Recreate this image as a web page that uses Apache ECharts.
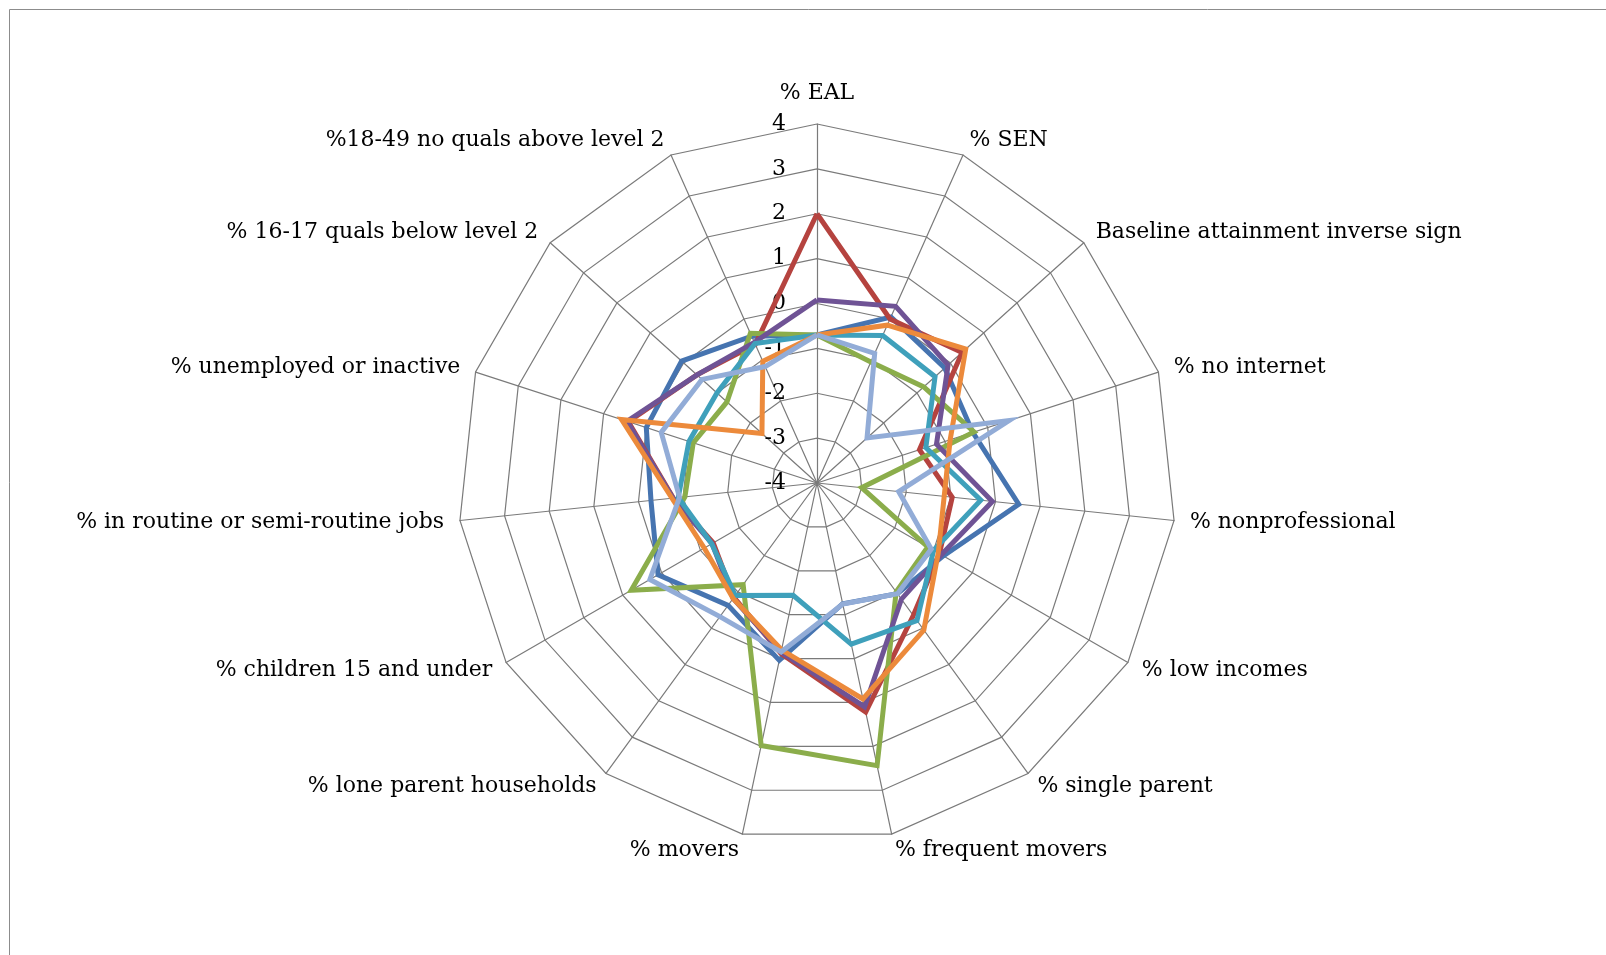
<!DOCTYPE html>
<html lang="en">
  <head>
    <meta charset="UTF-8" />
    <title>Radar</title>
    <style>
      * {
        margin: 0;
        padding: 0;
      }
      html,
      body {
        background: #fff;
      }
      #main {
        width: 1606px;
        height: 955px;
      }
    </style>
  </head>

  <body>
    <div id="main"></div>
  </body>

  <script src="https://cdn.jsdelivr.net/npm/echarts@6/dist/echarts.min.js"></script>
  <script>
    // axis names, clockwise from the top
    const categories = [
      "% EAL",
      "% SEN",
      "Baseline attainment inverse sign",
      "% no internet",
      "% nonprofessional",
      "% low incomes",
      "% single parent",
      "% frequent movers",
      "% movers",
      "% lone parent households",
      "% children 15 and under",
      "% in routine or semi-routine jobs",
      "% unemployed or inactive",
      "% 16-17 quals below level 2",
      "%18-49 no quals above level 2",
    ];

    // series values, same order as categories
    const blueVals = [-0.7, 0.05, -0.17, -0.35, 0.52, -0.75, -0.95, -1.25, 0.04, -0.63, 0.09, -0.28, 0.0, 0.06, -0.42];
    const redVals = [2.0, 0.0, 0.35, -1.6, -0.97, -0.85, -0.35, 1.22, -0.12, -0.85, -1.33, -0.78, 0.42, -0.4, -0.62];
    const greenVals = [-0.7, -1.05, -0.8, -0.32, -3.0, -1.15, -1.0, 2.44, 1.98, -1.2, 0.78, -1.04, -1.1, -1.3, -0.35];
    const purpleVals = [0.08, 0.31, -0.07, -1.2, -0.07, -0.8, -0.8, 1.1, -0.15, -0.82, -1.3, -0.77, 0.45, -0.4, -0.57];
    const tealVals = [-0.7, -0.4, -0.46, -1.45, -0.33, -1.0, -0.21, -0.33, -1.44, -0.9, -1.29, -0.89, -1.0, -1.0, -0.6];
    const orangeVals = [-0.7, -0.15, 0.46, -0.88, -1.15, -0.88, 0.05, 0.92, -0.2, -0.82, -1.1, -0.75, 0.58, -2.35, -1.03];
    const lightBlueVals = [-0.7, -0.84, -2.5, 0.5, -2.17, -1.06, -0.95, -1.24, -0.15, -0.32, 0.3, -0.92, -0.35, -0.55, -1.16];

    // scale
    const axisMin = -4;
    const axisMax = 4;

    const seriesList = [
      { vals: blueVals, color: "#4674b0" },
      { vals: redVals, color: "#b5433f" },
      { vals: greenVals, color: "#8bad4b" },
      { vals: purpleVals, color: "#6f5395" },
      { vals: tealVals, color: "#3fa0bb" },
      { vals: orangeVals, color: "#ec8a3b" },
      { vals: lightBlueVals, color: "#92acd7" },
    ];

    // echarts radar runs counter-clockwise, so keep the first one and flip the rest
    const order = [0].concat(
      categories
        .map((c, i) => i)
        .slice(1)
        .reverse()
    );

    const font = "DejaVu Serif";

    const indicator = order.map((i) => {
      const item = { name: categories[i], min: axisMin, max: axisMax };
      if (i === 0) {
        item.nameGap = 20;
        item.axisLabel = {
          show: true,
          color: "#000",
          fontFamily: font,
          fontSize: 22,
          margin: 31,
        };
      }
      return item;
    });

    var myChart = echarts.init(document.getElementById("main"));

    const option = {
      backgroundColor: "#fff",
      animation: false,
      graphic: [
        {
          type: "rect",
          shape: { x: 9.5, y: 9.5, width: 1700, height: 1000 },
          style: { fill: "none", stroke: "#8c8c8c", lineWidth: 1 },
          silent: true,
        },
      ],
      radar: {
        center: [817, 483],
        radius: 359,
        startAngle: 90,
        shape: "polygon",
        splitNumber: 8,
        nameGap: 16,
        axisName: {
          color: "#000",
          fontFamily: font,
          fontSize: 22,
        },
        axisLabel: { show: false },
        axisTick: { show: false },
        axisLine: { lineStyle: { color: "#7a7a7a", width: 1.2 } },
        splitLine: { lineStyle: { color: "#7a7a7a", width: 1.2 } },
        splitArea: { show: false },
        indicator: indicator,
      },
      series: [
        {
          type: "radar",
          symbol: "none",
          silent: true,
          data: seriesList.map((s) => ({
            value: order.map((i) => s.vals[i]),
            lineStyle: { color: s.color, width: 5, join: "miter" },
            itemStyle: { color: s.color },
          })),
        },
      ],
    };

    myChart.setOption(option);
  </script>
</html>
